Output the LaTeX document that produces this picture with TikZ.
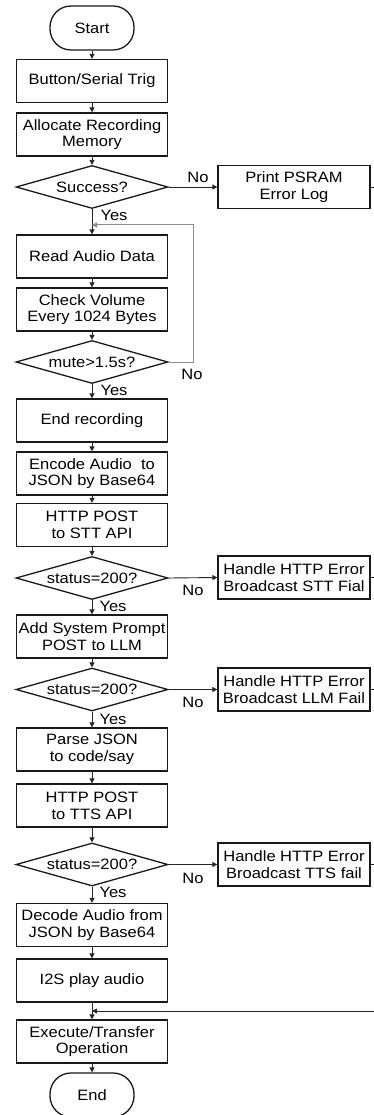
\documentclass[tikz,border=0pt]{standalone}
\usepackage{fontspec}
\setmainfont{Liberation Sans}[FakeStretch=1.1]
\usetikzlibrary{arrows.meta,shapes.geometric}
\begin{document}
\begin{tikzpicture}[x=1pt,y=-1pt,
  every node/.style={font=\fontsize{15}{16.7}\selectfont},
  proc/.style={draw=black!90,line width=1.3pt,minimum width=151pt,minimum height=43pt,align=center,inner sep=0pt},
  errbox/.style={proc,minimum width=152pt},
  dec/.style={draw=black!90,line width=1.3pt,shape=diamond,aspect=3.5,minimum width=152pt,minimum height=43pt,inner sep=0pt},
  term/.style={draw=black!90,line width=1.3pt,rounded corners=21pt,minimum width=84pt,minimum height=44pt,inner sep=0pt},
  arr/.style={-{Triangle[length=5pt,width=5pt]},line width=0.9pt,draw=black!85},
  ln/.style={line width=0.9pt,draw=black!85},
  loopln/.style={line width=1pt,draw=black!45},
  lab/.style={inner sep=0pt}]
\useasboundingbox (0,0) rectangle (374,1115);

\node[term] (start) at (92,28) {Start};
\node[proc] (trig) at (92,81) {Button/Serial Trig};
\node[proc] (alloc) at (92,134.5) {Allocate Recording\\Memory};
\node[dec] (succ) at (92,187) {Success?};
\node[errbox] (psram) at (294,187) {Print PSRAM\\Error Log};
\node[proc] (read) at (92,256.5) {Read Audio Data};
\node[proc] (vol) at (92,309.5) {Check Volume\\Every 1024 Bytes};
\node[dec] (mute) at (92,362) {mute>1.5s?};
\node[proc] (endrec) at (92,420.5) {End recording};
\node[proc] (enc) at (92,473.5) {Encode Audio\ \ to\\JSON by Base64};
\node[proc] (stt) at (92,525) {HTTP POST\\to STT API};
\node[dec] (st1) at (92,578) {status=200?};
\node[errbox] (e1) at (294,577.5) {Handle HTTP Error\\Broadcast STT Fial};
\node[proc] (llm) at (92,636.5) {Add System Prompt\\POST to LLM};
\node[dec] (st2) at (92,689.5) {status=200?};
\node[errbox] (e2) at (294,689.5) {Handle HTTP Error\\Broadcast LLM Fail};
\node[proc] (parse) at (92,749.5) {Parse JSON\\to code/say};
\node[proc] (tts) at (92,805.5) {HTTP POST\\to TTS API};
\node[dec] (st3) at (92,864.5) {status=200?};
\node[errbox] (e3) at (294,864.5) {Handle HTTP Error\\Broadcast TTS fail};
\node[proc] (dec64) at (92,925) {Decode Audio from\\JSON by Base64};
\node[proc] (i2s) at (92,980.5) {I2S play audio};
\node[proc] (exec) at (92,1041.5) {Execute/Transfer\\Operation};
\node[term] (end) at (92,1095) {End};

% labels
\node[lab] (lno1) at (198,177) {No};
\node[lab] (lyes1) at (114,215) {Yes};
\node[lab] (lno2) at (192,374) {No};
\node[lab] (lyes2) at (114,390) {Yes};
\node[lab] (lno3) at (193,590) {No};
\node[lab] (lyes3) at (113,606.5) {Yes};
\node[lab] (lno4) at (193,702) {No};
\node[lab] (lyes4) at (113,719) {Yes};
\node[lab] (lno5) at (193,878) {No};
\node[lab] (lyes5) at (113,892) {Yes};

% coordinates
\coordinate (loopin) at (92,225);
\coordinate (loopcorner) at (193,225);
\coordinate (r0) at (374,187);
\coordinate (r1) at (374,577.5);
\coordinate (r2) at (374,689.5);
\coordinate (r3) at (374,864.5);
\coordinate (rin) at (374,1011);
\coordinate (join) at (92,1011);

% main flow
\draw[arr] (start) -- (trig);
\draw[arr] (trig) -- (alloc);
\draw[arr] (alloc) -- (succ);
\draw[arr] (succ) -- (read);
\draw[arr] (read) -- (vol);
\draw[arr] (vol) -- (mute);
\draw[arr] (mute) -- (endrec);
\draw[arr] (endrec) -- (enc);
\draw[arr] (enc) -- (stt);
\draw[arr] (stt) -- (st1);
\draw[arr] (st1) -- (llm);
\draw[arr] (llm) -- (st2);
\draw[arr] (st2) -- (parse);
\draw[arr] (parse) -- (tts);
\draw[arr] (tts) -- (st3);
\draw[arr] (st3) -- (dec64);
\draw[arr] (dec64) -- (i2s);
\draw[arr] (i2s) -- (exec);
\draw[arr] (exec) -- (end);

% loop
\draw[loopln,-{Triangle[length=5pt,width=5pt]}] (mute.east) -| (loopcorner) -- (loopin);

% error branches
\draw[arr] (succ.east) -- (psram.west);
\draw[arr] (st1.east) -- (e1.west);
\draw[arr] (st2.east) -- (e2.west);
\draw[arr] (st3.east) -- (e3.west);
\draw[ln] (psram.east) -- (r0);
\draw[ln] (e1.east) -- (r1);
\draw[ln] (e2.east) -- (r2);
\draw[ln] (e3.east) -- (r3);
\draw[arr] (rin) -- (join);
\end{tikzpicture}
\end{document}
